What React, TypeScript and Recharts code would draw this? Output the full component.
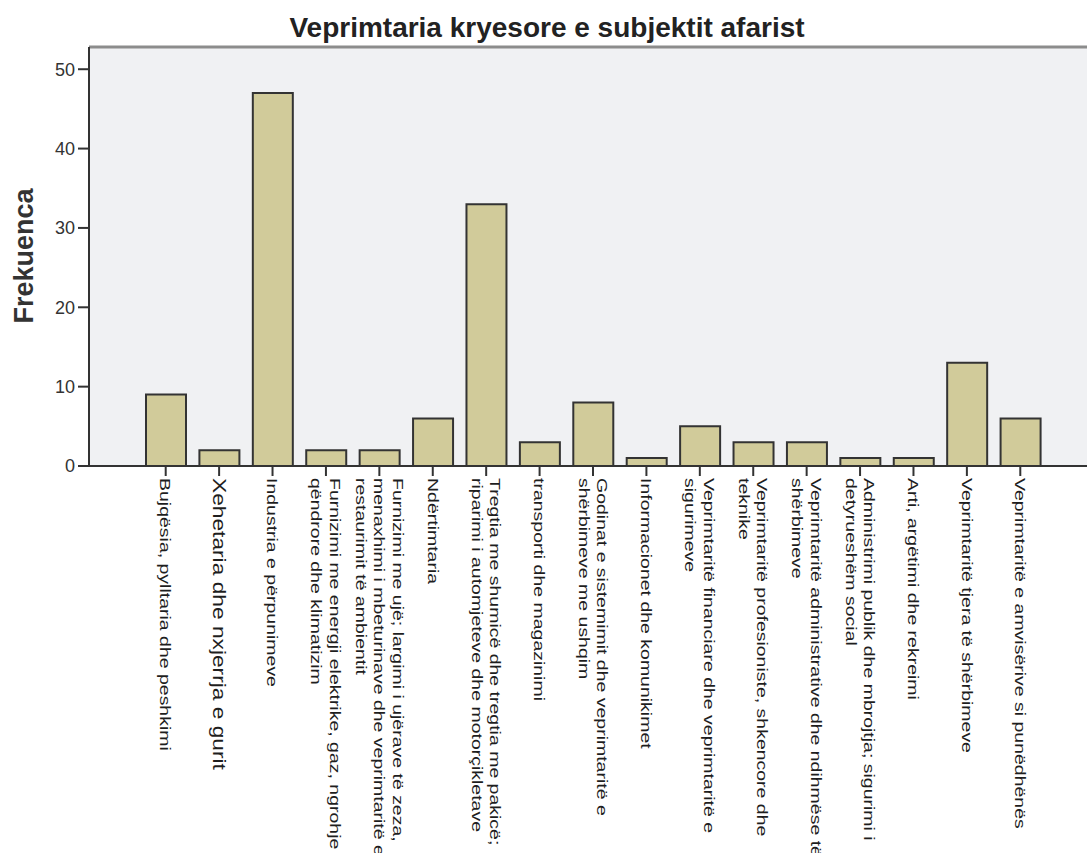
import React from "react";
import {
  BarChart,
  Bar,
  XAxis,
  YAxis,
  CartesianGrid,
  ReferenceLine,
} from "recharts";

const TITLE = "Veprimtaria kryesore e subjektit afarist";
const Y_LABEL = "Frekuenca";

const categories = [
  "Bujqësia, pylltaria dhe peshkimi",
  "Xehetaria dhe nxjerrja e gurit",
  "Industria e përpunimeve",
  "Furnizimi me energji elektrike, gaz, ngrohje\nqëndrore dhe klimatizim",
  "Furnizimi me ujë; largimi i ujërave të zeza,\nmenaxhimi i mbeturinave dhe veprimtaritë e\nrestaurimit të ambientit",
  "Ndërtimtaria",
  "Tregtia me shumicë dhe tregtia me pakicë;\nriparimi i automjeteve dhe motorçikletave",
  "transporti dhe magazinimi",
  "Godinat e sistemimit dhe veprimtaritë e\nshërbimeve me ushqim",
  "Informacionet dhe komunikimet",
  "Veprimtaritë financiare dhe veprimtaritë e\nsigurimeve",
  "Veprimtaritë profesioniste, shkencore dhe\nteknike",
  "Veprimtaritë administrative dhe ndihmëse të\nshërbimeve",
  "Administrimi publik dhe mbrojtja; sigurimi i\ndetyrueshëm social",
  "Arti, argëtimi dhe rekreimi",
  "Veprimtaritë tjera të shërbimeve",
  "Veprimtaritë e amvisërive si punëdhënës",
];

const frequencies = [9, 2, 47, 2, 2, 6, 33, 3, 8, 1, 5, 3, 3, 1, 1, 13, 6];

const yTicks = [0, 10, 20, 30, 40, 50];
const Y_MAX = 52.8;

const data = categories.map((name, i) => ({ name, value: frequencies[i] }));

const FONT = "'Liberation Sans', Arial, sans-serif";
// labels in the original are drawn wider along the reading direction
const STRETCH = 1.3;

function CategoryTick({ x, y, payload, index }: any) {
  const lines = String(payload.value).split("\n");
  const fs = index === 1 ? 17.5 : 15;
  const pitch = 18.5;
  const y0 = 0.35 * fs - ((lines.length - 1) * pitch) / 2;
  return (
    <g transform={`translate(${x},${y}) scale(1,${STRETCH}) rotate(90)`}>
      <text fontSize={fs} fill="#1e1e1e" fontFamily={FONT} textAnchor="start">
        {lines.map((line, i) => (
          <tspan key={i} x={0} y={y0 + i * pitch}>
            {line}
          </tspan>
        ))}
      </text>
    </g>
  );
}

function YLabel() {
  return (
    <text
      transform="translate(33,256) rotate(-90)"
      textAnchor="middle"
      fontSize={27}
      fontWeight="bold"
      fill="#333"
      fontFamily={FONT}
    >
      {Y_LABEL}
    </text>
  );
}

export default function App() {
  return (
    <div
      style={{
        position: "absolute",
        left: 0,
        top: 0,
        width: 1087,
        height: 853,
        overflow: "hidden",
        background: "#fff",
        fontFamily: FONT,
      }}
    >
      <div
        style={{
          position: "absolute",
          top: 14,
          left: 0,
          width: 1094,
          textAlign: "center",
          fontSize: 28,
          lineHeight: "28px",
          fontWeight: "bold",
          color: "#222",
        }}
      >
        {TITLE}
      </div>
      <BarChart
        width={1097}
        height={853}
        data={data}
        margin={{ top: 47, right: 0, bottom: 0, left: 0 }}
      >
        <CartesianGrid horizontal={false} vertical={false} fill="#f0f1f3" />
        <ReferenceLine y={Y_MAX} stroke="#8c8c8c" strokeWidth={3} />
        <XAxis
          dataKey="name"
          interval={0}
          height={387}
          padding={{ left: 50, right: 50 }}
          tickSize={10}
          tickMargin={2}
          axisLine={{ stroke: "#333", strokeWidth: 2 }}
          tickLine={{ stroke: "#333", strokeWidth: 2 }}
          tick={<CategoryTick />}
        />
        <YAxis
          width={89}
          domain={[0, Y_MAX]}
          ticks={yTicks}
          tickSize={11}
          tickMargin={3}
          axisLine={{ stroke: "#333", strokeWidth: 2 }}
          tickLine={{ stroke: "#333", strokeWidth: 2 }}
          tick={{ fontSize: 18, fill: "#333", fontFamily: FONT }}
          label={<YLabel />}
        />
        <Bar
          dataKey="value"
          fill="#d1cb9a"
          stroke="#333"
          strokeWidth={2}
          barSize={40}
          isAnimationActive={false}
        />
      </BarChart>
    </div>
  );
}
